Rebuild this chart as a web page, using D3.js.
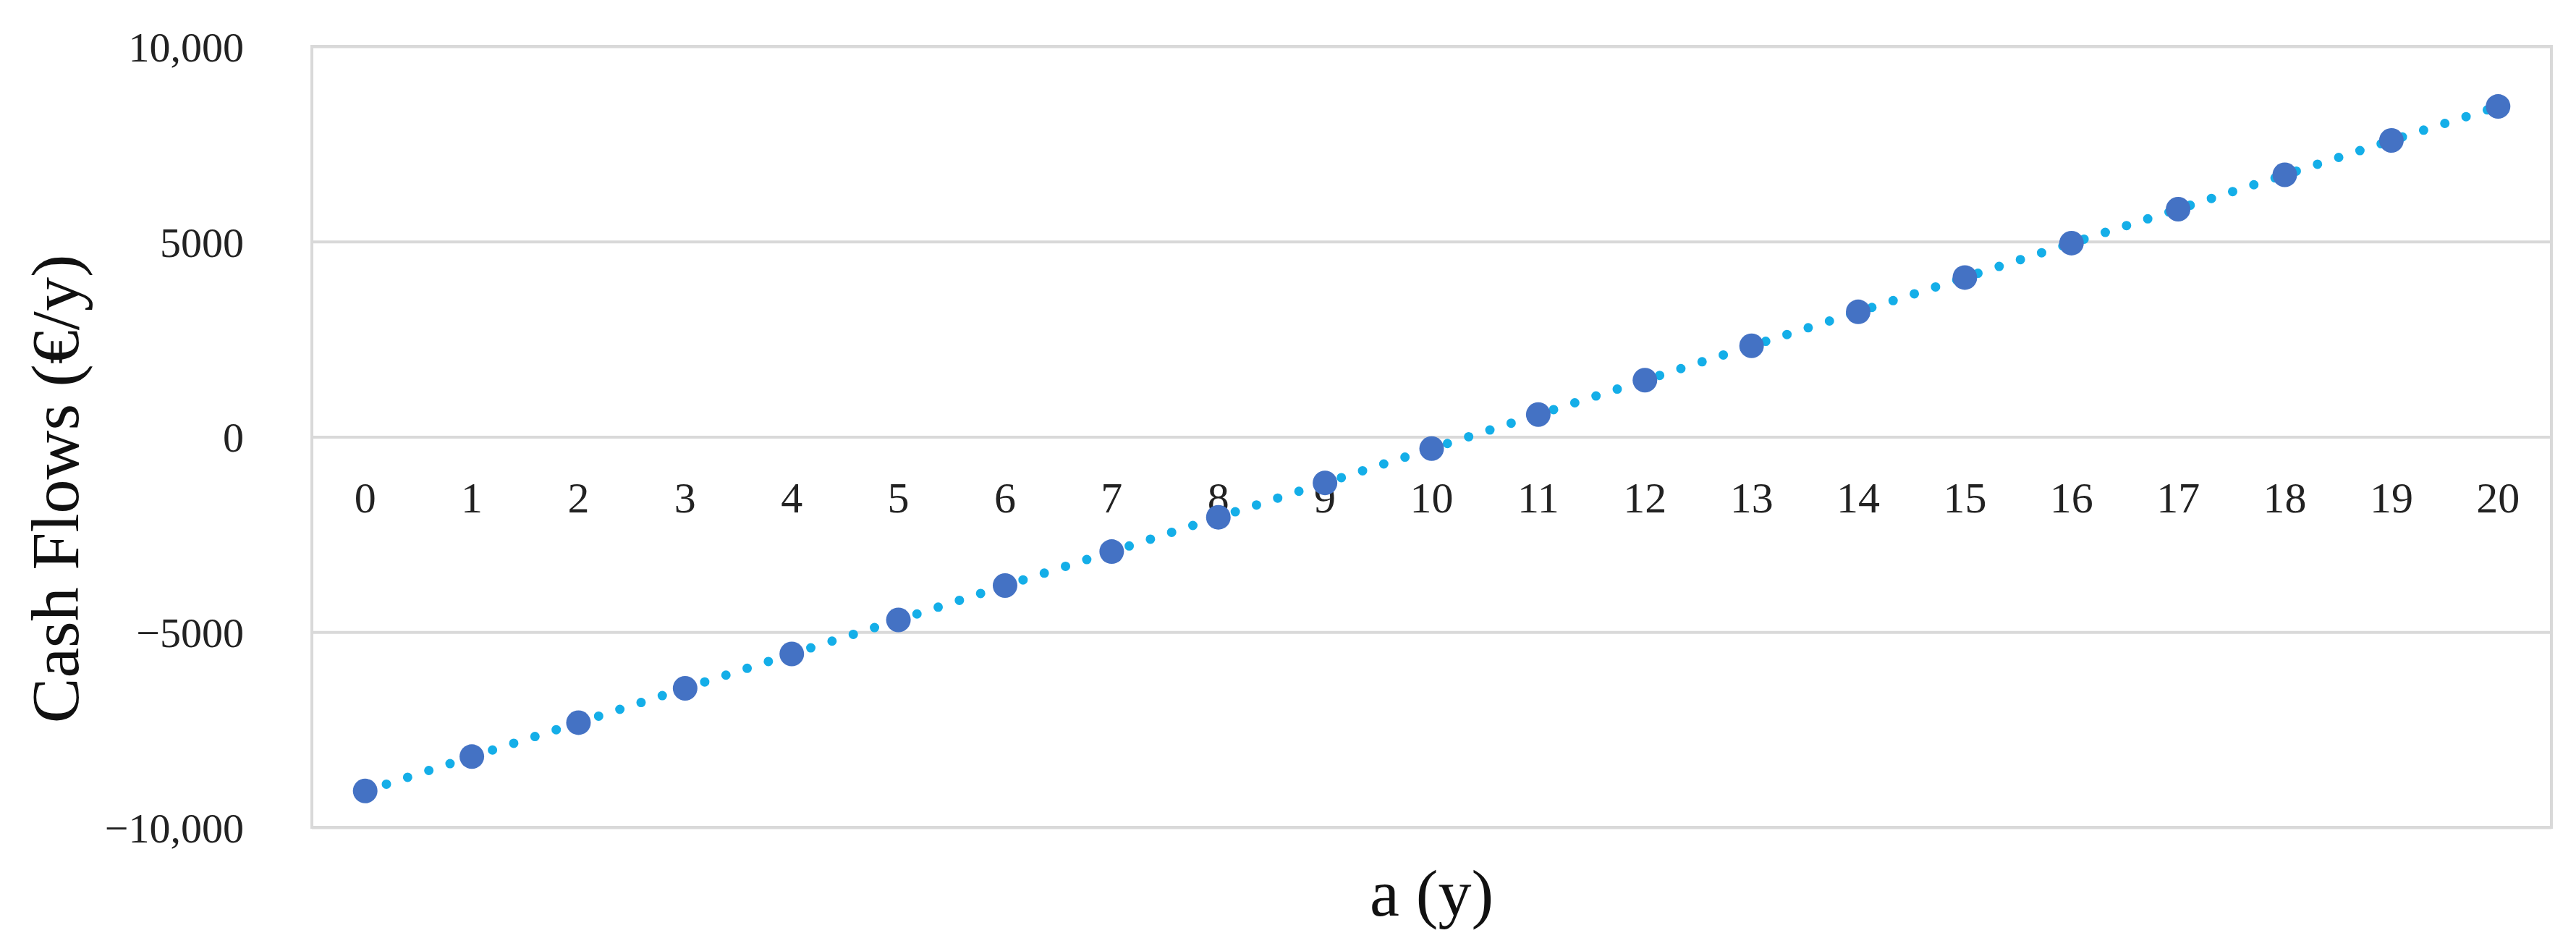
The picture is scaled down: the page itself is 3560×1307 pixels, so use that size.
<!DOCTYPE html>
<html>
<head>
<meta charset="utf-8">
<script src="https://cdn.jsdelivr.net/npm/d3@7/dist/d3.min.js"></script>
<style>
html,body{margin:0;padding:0;background:#fff;}
svg{display:block;}
</style>
</head>
<body>
<svg id="chart" width="3560" height="1307"></svg>
<script>
const years = [0,1,2,3,4,5,6,7,8,9,10,11,12,13,14,15,16,17,18,19,20];
const cashFlows = [-9070,-8190,-7320,-6440,-5560,-4690,-3810,-2940,-2060,-1180,-300,570,1450,2330,3200,4080,4960,5830,6710,7590,8460];
const yTicks = [-10000,-5000,0,5000,10000];
const yTickLabels = ["\u221210,000","\u22125000","0","5000","10,000"];
const yTitle = "Cash Flows (\u20ac/y)";
const xTitle = "a (y)";

const W = 3560, H = 1307;
const m = {left:431, right:W-3526, top:64, bottom:H-1143};
const svg = d3.select("#chart");
const font = "'Liberation Serif', 'DejaVu Serif', serif";

const x = d3.scaleBand().domain(years).range([m.left, W-m.right]).paddingInner(0).paddingOuter(0);
const y = d3.scaleLinear().domain([-10000,10000]).range([H-m.bottom, m.top]);

// gridlines
const grid = d3.axisLeft(y).tickValues(yTicks).tickSize(-(W-m.left-m.right)).tickFormat("");
svg.append("g").attr("transform",`translate(${m.left},0)`).call(grid)
  .call(g=>g.select(".domain").remove())
  .call(g=>g.selectAll("line").attr("stroke","#d9d9d9").attr("stroke-width",4));

// plot border
svg.append("rect").attr("x",m.left).attr("y",m.top)
  .attr("width",W-m.left-m.right).attr("height",H-m.top-m.bottom)
  .attr("fill","none").attr("stroke","#d9d9d9").attr("stroke-width",4);

// y tick labels
const yAxis = d3.axisLeft(y).tickValues(yTicks).tickSize(0).tickPadding(0)
  .tickFormat((d,i)=>yTickLabels[yTicks.indexOf(d)]);
svg.append("g").attr("transform",`translate(337,0)`).call(yAxis)
  .call(g=>g.select(".domain").remove())
  .call(g=>g.selectAll("text").attr("font-family",font).attr("font-size",58).attr("fill","#222").attr("dy","0.35em"));

// x category labels placed below the zero line
const xAxis = d3.axisBottom(x).tickSize(0).tickPadding(0);
svg.append("g").attr("transform",`translate(0,${y(0)+104})`).call(xAxis)
  .call(g=>g.select(".domain").remove())
  .call(g=>g.selectAll("text").attr("font-family",font).attr("font-size",60).attr("fill","#222").attr("dy","0"));

// line
const line = d3.line().x((d,i)=>x(years[i])+x.bandwidth()/2).y(d=>y(d));
svg.append("path").datum(cashFlows).attr("d",line)
  .attr("fill","none").attr("stroke","#14aee8").attr("stroke-width",13)
  .attr("stroke-linecap","round").attr("stroke-dasharray","0 30.8");

// markers
svg.append("g").selectAll("circle").data(cashFlows).join("circle")
  .attr("cx",(d,i)=>x(years[i])+x.bandwidth()/2).attr("cy",d=>y(d))
  .attr("r",17).attr("fill","#4472c4");

// titles
svg.append("text").attr("transform",`translate(108,${(m.top+H-m.bottom)/2+72}) rotate(-90)`)
  .attr("text-anchor","middle").attr("font-family",font).attr("font-size",94).attr("fill","#111").text(yTitle);
svg.append("text").attr("x",(m.left+W-m.right)/2).attr("y",1265)
  .attr("text-anchor","middle").attr("font-family",font).attr("font-size",92).attr("fill","#111").text(xTitle);
</script>
</body>
</html>
